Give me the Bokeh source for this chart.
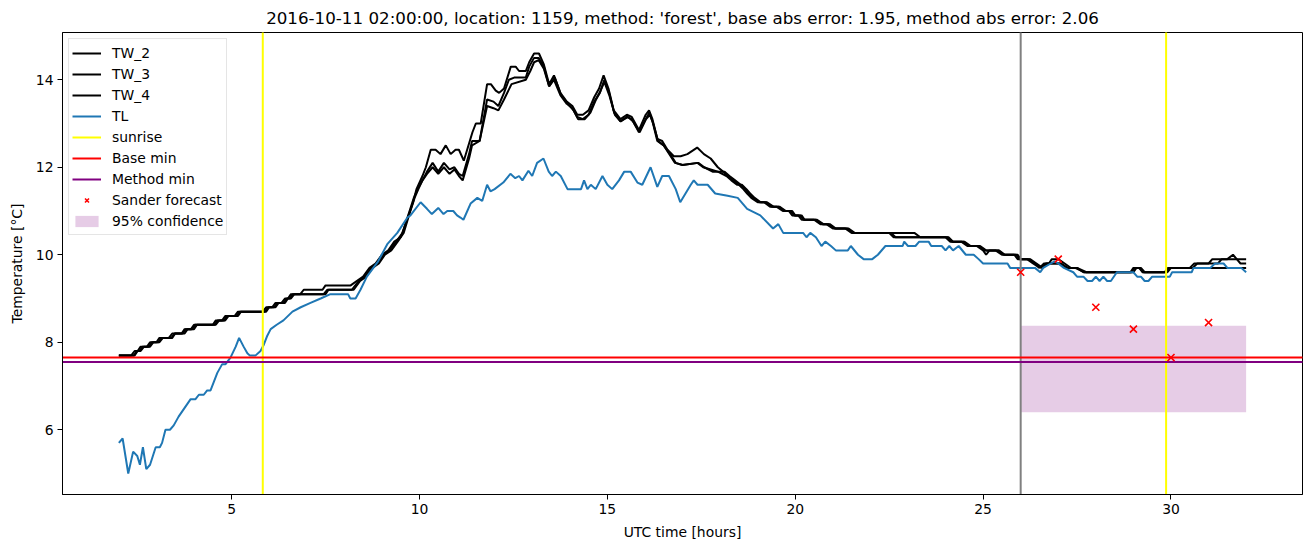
import math
from bokeh.plotting import figure
from bokeh.models import Span, Legend, LegendItem, FixedTicker, Range1d
from bokeh.embed import file_html
from bokeh.resources import INLINE

title_text = "2016-10-11 02:00:00, location: 1159, method: 'forest', base abs error: 1.95, method abs error: 2.06"

# (hour, temperature) vertices
tl_points = [(2.0,5.7),(2.1,5.8),(2.25,5.0),(2.38,5.5),(2.49,5.4),(2.56,5.2),(2.64,5.6),(2.73,5.1),(2.83,5.2),(2.98,5.6),(3.09,5.6),(3.15,5.7),(3.24,6.0),(3.36,6.0),(3.46,6.1),(3.59,6.3),(3.91,6.7),(4.04,6.7),(4.13,6.8),(4.26,6.8),(4.35,6.9),(4.44,6.9),(4.53,7.1),(4.62,7.3),(4.75,7.5),(4.84,7.5),(4.97,7.65),(5.11,7.9),(5.2,8.1),(5.32,7.9),(5.42,7.75),(5.48,7.7),(5.64,7.7),(5.77,7.8),(5.86,7.95),(5.95,8.15),(6.04,8.3),(6.2,8.4),(6.38,8.5),(6.62,8.7),(6.84,8.8),(7.1,8.9),(7.37,9.0),(7.63,9.1),(8.1,9.1),(8.16,9.0),(8.3,9.0),(8.43,9.2),(8.6,9.5),(8.9,9.85),(9.15,10.25),(9.41,10.5),(9.68,10.85),(9.76,10.9),(10.03,11.2),(10.2,11.05),(10.33,10.93),(10.5,11.07),(10.64,10.93),(10.74,11.0),(10.9,11.0),(11.0,10.9),(11.09,10.85),(11.17,10.8),(11.36,11.17),(11.54,11.3),(11.67,11.23),(11.8,11.6),(11.89,11.45),(12.0,11.5),(12.23,11.65),(12.42,11.85),(12.55,11.75),(12.65,11.8),(12.74,11.7),(12.9,11.92),(13.0,11.8),(13.13,12.1),(13.3,12.2),(13.44,11.9),(13.53,11.8),(13.63,11.9),(13.76,11.8),(13.94,11.5),(14.3,11.5),(14.38,11.7),(14.47,11.5),(14.56,11.6),(14.69,11.5),(14.87,11.8),(15.0,11.6),(15.13,11.5),(15.31,11.7),(15.45,11.9),(15.62,11.9),(15.8,11.65),(15.93,11.6),(16.15,12.0),(16.33,11.55),(16.46,11.8),(16.64,11.8),(16.82,11.5),(16.94,11.2),(17.22,11.6),(17.3,11.7),(17.4,11.6),(17.67,11.6),(17.87,11.4),(18.2,11.35),(18.47,11.3),(18.72,11.05),(19.07,10.9),(19.41,10.6),(19.55,10.7),(19.68,10.5),(20.21,10.5),(20.3,10.4),(20.4,10.5),(20.55,10.4),(20.7,10.2),(20.8,10.3),(20.95,10.2),(21.08,10.1),(21.4,10.1),(21.48,10.2),(21.67,10.0),(21.82,9.9),(22.05,9.9),(22.2,10.0),(22.4,10.2),(22.86,10.2),(22.9,10.3),(23.0,10.2),(23.2,10.2),(23.3,10.3),(23.55,10.3),(23.62,10.2),(23.9,10.2),(24.0,10.1),(24.1,10.2),(24.2,10.1),(24.35,10.2),(24.54,10.0),(24.75,10.0),(24.88,9.9),(25.0,9.8),(25.65,9.8),(25.72,9.7),(26.38,9.7),(26.52,9.6),(26.6,9.7),(26.8,9.8),(26.9,9.85),(27.0,9.8),(27.15,9.7),(27.4,9.6),(27.5,9.5),(27.67,9.5),(27.78,9.4),(27.9,9.4),(28.0,9.5),(28.1,9.4),(28.2,9.5),(28.3,9.4),(28.4,9.4),(28.56,9.6),(29.0,9.6),(29.1,9.5),(29.2,9.5),(29.3,9.4),(29.4,9.4),(29.5,9.5),(29.97,9.5),(30.03,9.6),(30.55,9.6),(30.6,9.7),(31.05,9.7),(31.17,9.8),(31.4,9.8),(31.5,9.7),(31.87,9.7),(32.0,9.6)]

tw2_points = [(2.0,7.7),(2.33,7.7),(2.42,7.8),(2.5,7.8),(2.58,7.9),(2.75,7.9),(2.83,8.0),(3.0,8.0),(3.08,8.1),(3.33,8.1),(3.42,8.2),(3.67,8.2),(3.75,8.3),(3.92,8.3),(4.0,8.4),(4.5,8.4),(4.58,8.5),(4.75,8.5),(4.83,8.6),(5.08,8.6),(5.17,8.7),(5.83,8.7),(5.92,8.8),(6.08,8.8),(6.17,8.9),(6.33,8.9),(6.42,9.0),(6.5,9.0),(6.58,9.1),(6.83,9.1),(6.92,9.2),(7.42,9.2),(7.5,9.3),(8.17,9.3),(8.33,9.4),(8.5,9.5),(8.67,9.7),(8.83,9.8),(9.0,10.0),(9.17,10.1),(9.33,10.3),(9.5,10.4),(9.67,10.8),(9.83,11.2),(9.92,11.5),(10.08,11.8),(10.17,12.0),(10.3,12.4),(10.43,12.4),(10.56,12.3),(10.7,12.5),(10.83,12.3),(10.96,12.4),(11.05,12.4),(11.18,12.15),(11.41,12.8),(11.5,13.0),(11.63,13.0),(11.8,13.9),(11.9,13.9),(12.03,13.75),(12.12,13.7),(12.25,13.8),(12.43,14.3),(12.56,14.3),(12.65,14.2),(12.83,14.2),(12.92,14.4),(13.05,14.6),(13.18,14.6),(13.31,14.35),(13.45,13.9),(13.58,14.1),(13.75,13.7),(13.92,13.5),(14.07,13.4),(14.2,13.2),(14.35,13.2),(14.5,13.3),(14.65,13.6),(14.78,13.8),(14.9,14.1),(15.03,13.8),(15.17,13.3),(15.35,13.1),(15.52,13.2),(15.65,13.15),(15.84,12.85),(16.02,13.2),(16.11,13.3),(16.2,13.1),(16.33,12.65),(16.46,12.6),(16.6,12.4),(16.77,12.25),(16.95,12.25),(17.13,12.3),(17.39,12.45),(17.57,12.3),(17.75,12.2),(17.94,12.0),(18.08,11.9),(18.2,11.8),(18.35,11.7),(18.5,11.6),(18.62,11.5),(18.72,11.4),(18.83,11.3),(19.0,11.2),(19.17,11.2),(19.33,11.1),(19.5,11.1),(19.67,11.0),(19.83,11.0),(19.92,10.9),(20.08,10.9),(20.17,10.8),(20.5,10.8),(20.67,10.7),(20.83,10.7),(21.0,10.6),(21.33,10.6),(21.5,10.5),(23.17,10.5),(23.33,10.4),(24.0,10.4),(24.12,10.3),(24.42,10.3),(24.58,10.2),(24.83,10.2),(25.0,10.1),(25.08,10.0),(25.17,10.1),(25.33,10.1),(25.5,10.0),(25.83,10.0),(25.92,9.9),(26.17,9.9),(26.33,9.8),(26.42,9.75),(26.5,9.7),(26.62,9.8),(26.75,9.8),(26.83,9.9),(27.0,9.9),(27.17,9.8),(27.33,9.7),(27.5,9.7),(27.67,9.6),(28.92,9.6),(29.0,9.7),(29.17,9.7),(29.25,9.6),(29.83,9.6),(29.92,9.7),(30.5,9.7),(30.62,9.8),(31.0,9.8),(31.1,9.9),(31.5,9.9),(31.65,10.0),(31.75,9.9),(32.0,9.9)]

tw3_points = [(2.0,7.7),(2.42,7.7),(2.5,7.8),(2.58,7.8),(2.67,7.9),(2.83,7.9),(2.92,8.0),(3.08,8.0),(3.17,8.1),(3.42,8.1),(3.5,8.2),(3.75,8.2),(3.83,8.3),(4.0,8.3),(4.08,8.4),(4.58,8.4),(4.67,8.5),(4.83,8.5),(4.92,8.6),(5.17,8.6),(5.25,8.7),(5.92,8.7),(6.0,8.8),(6.17,8.8),(6.25,8.9),(6.42,8.9),(6.5,9.0),(6.58,9.0),(6.67,9.1),(7.5,9.1),(7.58,9.2),(8.25,9.2),(8.42,9.4),(8.58,9.5),(8.75,9.7),(8.92,9.8),(9.08,10.0),(9.25,10.1),(9.42,10.3),(9.58,10.5),(9.72,10.9),(9.87,11.3),(9.97,11.5),(10.08,11.7),(10.2,11.9),(10.35,12.1),(10.5,11.9),(10.65,12.1),(10.8,11.95),(10.93,12.0),(11.05,11.85),(11.15,11.8),(11.32,12.3),(11.4,12.6),(11.6,12.6),(11.8,13.55),(11.97,13.5),(12.1,13.4),(12.25,13.7),(12.38,14.0),(12.52,14.05),(12.83,14.05),(12.92,14.3),(13.05,14.5),(13.17,14.5),(13.31,14.3),(13.45,13.85),(13.58,14.0),(13.75,13.65),(13.92,13.45),(14.07,13.35),(14.2,13.15),(14.35,13.1),(14.5,13.2),(14.65,13.5),(14.8,13.7),(14.92,14.0),(15.05,13.7),(15.18,13.25),(15.35,13.05),(15.52,13.15),(15.65,13.1),(15.84,12.8),(16.02,13.1),(16.12,13.25),(16.2,13.05),(16.33,12.6),(16.5,12.5),(16.65,12.3),(16.8,12.1),(17.0,12.05),(17.4,12.1),(17.55,12.0),(17.75,11.95),(17.94,11.9),(18.17,11.8),(18.3,11.7),(18.45,11.6),(18.58,11.6),(18.7,11.5),(18.8,11.4),(18.92,11.3),(19.08,11.2),(19.25,11.2),(19.42,11.1),(19.58,11.1),(19.75,11.0),(19.92,11.0),(20.0,10.9),(20.17,10.9),(20.25,10.8),(20.58,10.8),(20.75,10.7),(20.92,10.7),(21.08,10.6),(21.42,10.6),(21.58,10.5),(22.5,10.5),(22.62,10.4),(24.08,10.4),(24.2,10.3),(24.5,10.3),(24.67,10.2),(24.92,10.2),(25.08,10.1),(25.42,10.1),(25.58,10.0),(25.92,10.0),(26.0,9.9),(26.25,9.9),(26.42,9.8),(26.58,9.7),(26.7,9.8),(27.08,9.8),(27.25,9.7),(27.5,9.7),(27.75,9.6),(29.0,9.6),(29.08,9.7),(29.2,9.7),(29.3,9.6),(29.9,9.6),(30.0,9.7),(30.58,9.7),(30.7,9.8),(31.25,9.8),(31.35,9.9),(31.75,9.9),(31.85,9.8),(32.0,9.8)]

tw4_points = [(2.0,7.7),(2.4,7.7),(2.48,7.8),(2.55,7.8),(2.63,7.9),(2.8,7.9),(2.88,8.0),(3.05,8.0),(3.13,8.1),(3.4,8.1),(3.48,8.2),(3.7,8.2),(3.78,8.3),(3.95,8.3),(4.03,8.4),(4.55,8.4),(4.63,8.5),(4.8,8.5),(4.88,8.6),(5.13,8.6),(5.22,8.7),(5.88,8.7),(5.97,8.8),(6.13,8.8),(6.22,8.9),(6.38,8.9),(6.47,9.0),(6.55,9.0),(6.63,9.1),(7.45,9.1),(7.55,9.2),(8.2,9.2),(8.38,9.4),(8.55,9.5),(8.72,9.7),(8.88,9.8),(9.05,10.0),(9.2,10.1),(9.38,10.3),(9.55,10.5),(9.7,10.9),(9.85,11.3),(9.95,11.5),(10.08,11.7),(10.2,11.85),(10.35,12.0),(10.5,11.85),(10.65,12.0),(10.8,11.85),(10.93,11.95),(11.05,11.8),(11.15,11.7),(11.32,12.2),(11.4,12.5),(11.6,12.6),(11.8,13.4),(11.97,13.35),(12.1,13.3),(12.25,13.55),(12.45,13.9),(12.83,14.0),(12.95,14.2),(13.05,14.4),(13.17,14.45),(13.31,14.25),(13.45,13.85),(13.6,14.05),(13.77,13.65),(13.95,13.45),(14.1,13.3),(14.22,13.1),(14.4,13.1),(14.55,13.25),(14.7,13.55),(14.82,13.75),(14.92,13.95),(15.05,13.65),(15.2,13.2),(15.35,13.05),(15.55,13.15),(15.68,13.05),(15.86,12.8),(16.03,13.1),(16.13,13.2),(16.22,13.0),(16.35,12.6),(16.5,12.5),(16.67,12.3),(16.82,12.1),(17.0,12.05),(17.42,12.1),(17.58,12.0),(17.8,11.9),(18.12,11.9),(18.25,11.8),(18.4,11.7),(18.55,11.6),(18.67,11.5),(18.77,11.4),(18.88,11.3),(19.05,11.2),(19.22,11.2),(19.38,11.1),(19.55,11.1),(19.72,11.0),(19.88,11.0),(19.97,10.9),(20.13,10.9),(20.22,10.8),(20.55,10.8),(20.72,10.7),(20.88,10.7),(21.05,10.6),(21.38,10.6),(21.55,10.5),(22.55,10.5),(22.67,10.4),(24.05,10.4),(24.17,10.3),(24.47,10.3),(24.63,10.2),(24.88,10.2),(25.05,10.1),(25.4,10.1),(25.55,10.0),(25.88,10.0),(25.97,9.9),(26.22,9.9),(26.38,9.8),(26.55,9.7),(26.67,9.8),(27.05,9.8),(27.22,9.7),(27.45,9.7),(27.7,9.6),(28.95,9.6),(29.03,9.7),(29.15,9.7),(29.25,9.6),(29.85,9.6),(29.95,9.7),(32.0,9.7)]

sunrise_hours = [5.83, 29.87]
base_min = 7.65
method_min = 7.55
forecast_start = 26.0
sander_hours = [26, 27, 28, 29, 30, 31]
sander_temps = [9.6, 9.9, 8.8, 8.3, 7.65, 8.45]
conf_start, conf_end = 26.0, 32.0
conf_low, conf_high = 6.4, 8.38
x_ticks = [5, 10, 15, 20, 25, 30]
y_ticks = [6, 8, 10, 12, 14]

FONT = "DejaVu Sans"
FS = "13.9px"

x_lo, x_hi = 0.5, 33.5
y_lo, y_hi = 4.52, 15.08

p = figure(width=1310, height=547, output_backend="svg", toolbar_location=None,
           x_range=Range1d(x_lo, x_hi), y_range=Range1d(y_lo, y_hi),
           min_border_left=62, min_border_right=8, min_border_top=32, min_border_bottom=53,
           background_fill_color="white", border_fill_color="white")

p.title.text = title_text
p.title.align = "center"
p.title.text_font = FONT
p.title.text_font_size = "16.7px"
p.title.text_font_style = "normal"
p.title.text_color = "black"

p.grid.visible = False
p.outline_line_color = "black"
p.outline_line_width = 1
p.outline_line_alpha = 1

for ax, ticks in ((p.xaxis, x_ticks), (p.yaxis, y_ticks)):
    ax.ticker = FixedTicker(ticks=ticks)
    ax.minor_tick_line_color = None
    ax.major_tick_in = 0
    ax.major_tick_out = 5
    ax.major_tick_line_color = "black"
    ax.axis_line_color = "black"
    ax.major_label_text_font = FONT
    ax.major_label_text_font_size = FS
    ax.major_label_text_color = "black"
    ax.axis_label_text_font = FONT
    ax.axis_label_text_font_size = FS
    ax.axis_label_text_font_style = "normal"
    ax.axis_label_text_color = "black"
    ax.major_label_standoff = 4

p.xaxis.axis_label = "UTC time [hours]"
p.yaxis.axis_label = "Temperature [°C]"
p.xaxis.axis_label_standoff = 7
p.yaxis.axis_label_standoff = 8

band = p.quad(left=[conf_start], right=[conf_end], bottom=[conf_low], top=[conf_high],
              fill_color="purple", fill_alpha=0.2, line_color=None)

def split(points):
    return [a for a, _ in points], [b for _, b in points]

tw_renderers = []
for pts in (tw2_points, tw3_points, tw4_points):
    xs, ys = split(pts)
    tw_renderers.append(p.line(xs, ys, line_color="black", line_width=2))

tl_x, tl_y = split(tl_points)
tl_r = p.line(tl_x, tl_y, line_color="#1f77b4", line_width=2)

# vertical / horizontal reference lines as infinite rays from the axis limits
p.ray(x=[forecast_start], y=[y_lo], length=0, angle=math.pi / 2, line_color="gray", line_width=2)
sunrise_r = p.ray(x=sunrise_hours, y=[y_lo] * len(sunrise_hours), length=0, angle=math.pi / 2,
                  line_color="yellow", line_width=2)
base_r = p.ray(x=[x_lo], y=[base_min], length=0, angle=0, line_color="red", line_width=2)
method_r = p.ray(x=[x_lo], y=[method_min], length=0, angle=0, line_color="purple", line_width=2)

sander = p.scatter(sander_hours, sander_temps, marker="x", size=10, line_color="red", line_width=1.6)

legend = Legend(items=[
    LegendItem(label="TW_2", renderers=[tw_renderers[0]]),
    LegendItem(label="TW_3", renderers=[tw_renderers[1]]),
    LegendItem(label="TW_4", renderers=[tw_renderers[2]]),
    LegendItem(label="TL", renderers=[tl_r]),
    LegendItem(label="sunrise", renderers=[sunrise_r]),
    LegendItem(label="Base min", renderers=[base_r]),
    LegendItem(label="Method min", renderers=[method_r]),
    LegendItem(label="Sander forecast", renderers=[sander]),
    LegendItem(label="95% confidence", renderers=[band]),
], location="top_left")
legend.margin = 6
legend.padding = 3
legend.spacing = 0
legend.label_height = 21
legend.glyph_height = 14
legend.glyph_width = 29
legend.label_standoff = 11
legend.label_text_font = FONT
legend.label_text_font_size = FS
legend.label_text_color = "black"
legend.border_line_color = "#cccccc"
legend.border_line_width = 1
legend.background_fill_color = "white"
legend.background_fill_alpha = 0.8
p.add_layout(legend)

open("out.html", "w").write(file_html(p, INLINE))
